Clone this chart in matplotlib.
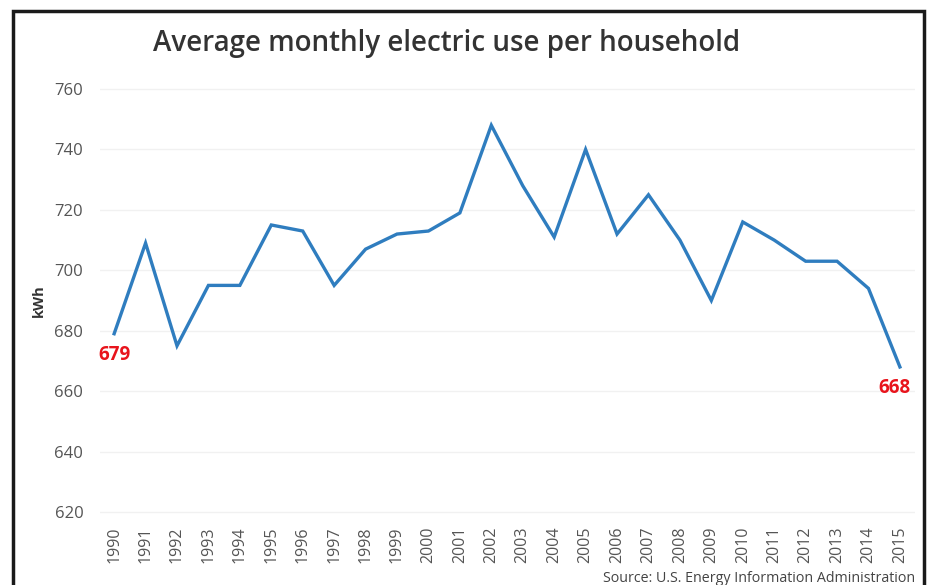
import matplotlib
matplotlib.use("Agg")
import matplotlib.pyplot as plt
from matplotlib.patches import Rectangle

# values
years = list(range(1990, 2016))
kwh = [679, 709, 675, 695, 695, 715, 713, 695, 707, 712, 713, 719, 748, 728,
       711, 740, 712, 725, 710, 690, 716, 710, 703, 703, 694, 668]
y_ticks = [620, 640, 660, 680, 700, 720, 740, 760]

plt.rcParams['font.family'] = ['Open Sans', 'DejaVu Sans']

fig = plt.figure(figsize=(9.29, 5.85), dpi=100)
ax = fig.add_axes([100 / 929, 64 / 585, 815 / 929, 441 / 585])

ax.plot(years, kwh, color='#2f7dbf', linewidth=2.4, solid_joinstyle='miter')

ax.set_xlim(1989.55, 2015.48)
ax.set_ylim(617, 763)
ax.set_yticks(y_ticks)
ax.set_xticks(years)
ax.set_xticklabels([str(y) for y in years], rotation=90, color='#555555', fontsize=11.5)
ax.tick_params(axis='y', colors='#555555', labelsize=12, length=0, pad=12)
ax.tick_params(axis='x', length=0, pad=4)
ax.grid(axis='y', color='#f1f1f1', linewidth=1)
ax.set_axisbelow(True)
for s in ax.spines.values():
    s.set_visible(False)

ax.set_ylabel('kWh', fontsize=10.5, fontweight='bold', color='#333333', labelpad=6)

# end point labels
ax.annotate(str(kwh[0]), (years[0], kwh[0]), xytext=(0, -15), textcoords='offset points',
            ha='center', va='center', color='#e8141c', fontsize=13.5, fontweight='bold')
ax.annotate(str(kwh[-1]), (years[-1], kwh[-1]), xytext=(-4, -15), textcoords='offset points',
            ha='center', va='center', color='#e8141c', fontsize=13.5, fontweight='bold')

fig.text(447 / 929, 1 - 44 / 585, 'Average monthly electric use per household',
         ha='center', va='center', fontsize=20, fontweight='semibold', color='#333333')
fig.text(915 / 929, 1 - 578 / 585, 'Source: U.S. Energy Information Administration',
         ha='right', va='center', fontsize=10.3, color='#444444')

# black frame around the graphic
fig.patches.append(Rectangle((13 / 929, -0.05), 911 / 929, 1.05 - 11 / 585,
                             transform=fig.transFigure, fill=False,
                             edgecolor='#1a1a1a', linewidth=2.5))

fig.savefig('out.png', dpi=100)
